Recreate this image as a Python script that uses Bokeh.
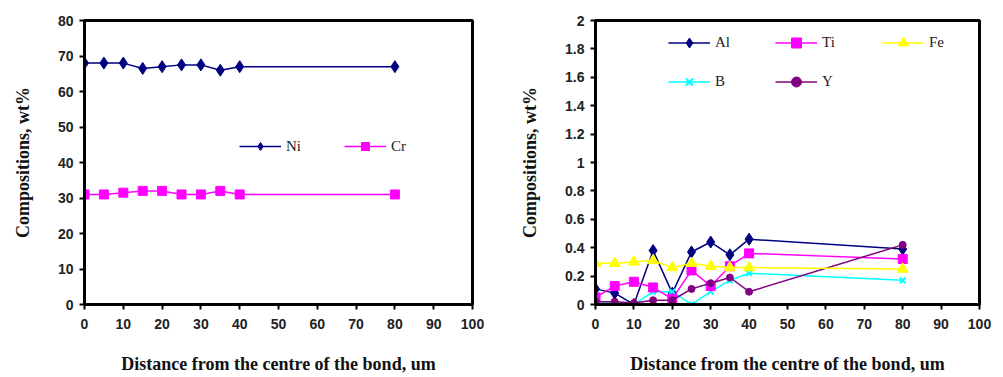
from bokeh.plotting import figure
from bokeh.layouts import row
from bokeh.models import Range1d, Legend, LegendItem, FixedTicker, CustomJSTickFormatter
from bokeh.embed import file_html
from bokeh.resources import INLINE

distance = [0, 5, 10, 15, 20, 25, 30, 35, 40, 80]

ni = [68, 68, 68, 66.5, 67, 67.5, 67.5, 66, 67, 67]
cr = [31, 31, 31.5, 32, 32, 31, 31, 32, 31, 31]

al = [0.11, 0.08, 0.0, 0.38, 0.08, 0.37, 0.44, 0.35, 0.46, 0.39]
ti = [0.05, 0.13, 0.16, 0.12, 0.04, 0.24, 0.13, 0.27, 0.36, 0.32]
fe = [0.29, 0.29, 0.30, 0.31, 0.26, 0.29, 0.27, 0.26, 0.26, 0.25]
b = [0.01, 0.01, 0.0, 0.09, 0.09, 0.0, 0.09, 0.17, 0.22, 0.17]
yy = [0.02, 0.02, 0.01, 0.03, 0.03, 0.11, 0.15, 0.19, 0.09, 0.42]

x_ticks = [0, 10, 20, 30, 40, 50, 60, 70, 80, 90, 100]
left_ticks = [0, 10, 20, 30, 40, 50, 60, 70, 80]
right_ticks = [0, 0.2, 0.4, 0.6, 0.8, 1.0, 1.2, 1.4, 1.6, 1.8, 2.0]

XLABEL = "Distance from the centre of the bond, um"
YLABEL = "Compositions, wt%"
SERIF = "Liberation Serif"


def style(p, yticks):
    p.xaxis.ticker = FixedTicker(ticks=x_ticks)
    p.yaxis.ticker = FixedTicker(ticks=yticks)
    p.xgrid.visible = False
    p.ygrid.visible = False
    p.outline_line_color = "black"
    p.outline_line_width = 3
    for ax in (p.xaxis[0], p.yaxis[0]):
        ax.axis_line_color = "black"
        ax.axis_line_width = 3
        ax.major_tick_line_color = "black"
        ax.major_tick_line_width = 2
        ax.major_tick_out = 5
        ax.major_tick_in = 0
        ax.minor_tick_line_color = None
        ax.major_label_text_font = "Liberation Sans"
        ax.major_label_text_font_style = "bold"
        ax.major_label_text_font_size = "14px"
        ax.major_label_text_color = "#222222"
        ax.axis_label_text_font = SERIF
        ax.axis_label_text_font_style = "bold"
        ax.axis_label_text_font_size = "18px"
        ax.axis_label_text_color = "#111111"
    p.xaxis.axis_label = XLABEL
    p.yaxis.axis_label = YLABEL
    p.xaxis.axis_label_standoff = 22
    p.yaxis.axis_label_standoff = 22
    p.xaxis.major_label_standoff = 9
    p.yaxis.major_label_standoff = 6


# Left panel
p1 = figure(width=500, height=377, output_backend="svg", toolbar_location=None,
            x_range=Range1d(0, 100), y_range=Range1d(0, 80),
            min_border_left=84, min_border_right=28, min_border_top=20, min_border_bottom=73)
style(p1, left_ticks)
l_ni = p1.line(distance, ni, color="#000080", line_width=1.5)
m_ni = p1.scatter(distance, ni, marker="diamond", size=12, color="#000080")
l_cr = p1.line(distance, cr, color="#FF00FF", line_width=1.5)
m_cr = p1.scatter(distance, cr, marker="square", size=9, color="#FF00FF")
leg1 = Legend(items=[LegendItem(label="Ni", renderers=[l_ni, m_ni]),
                     LegendItem(label="Cr", renderers=[l_cr, m_cr])],
              orientation="horizontal", location=(155, 148),
              background_fill_alpha=0, border_line_color=None,
              label_text_font=SERIF, label_text_font_size="15px",
              glyph_width=42, spacing=38, label_text_color="#222222")
p1.add_layout(leg1, "center")

# Right panel
p2 = figure(width=503, height=377, output_backend="svg", toolbar_location=None,
            x_range=Range1d(0, 100), y_range=Range1d(0, 2),
            min_border_left=95, min_border_right=24, min_border_top=19, min_border_bottom=71)
style(p2, right_ticks)
p2.yaxis.formatter = CustomJSTickFormatter(code="return String(Math.round(tick*10)/10);")

series = [
    ("Al", al, "#000080", "diamond", 12),
    ("B", b, "#00FFFF", "x", 8),
    ("Ti", ti, "#FF00FF", "square", 9),
    ("Y", yy, "#800080", "circle", 7),
    ("Fe", fe, "#FFFF00", "triangle", 11),
]
items = []
for name, vals, col, mk, sz in series:
    ln = p2.line(distance, vals, color=col, line_width=1.5)
    if mk == "x":
        sc = p2.scatter(distance, vals, marker=mk, size=sz, line_color=col, line_width=2)
    else:
        sc = p2.scatter(distance, vals, marker=mk, size=sz, color=col)
    items.append(LegendItem(label=name, renderers=[ln, sc]))
leg2 = Legend(items=items, ncols=3, location=(73, 210),
              background_fill_alpha=0, border_line_color=None,
              label_text_font=SERIF, label_text_font_size="15px",
              glyph_width=42, glyph_height=25, spacing=14, label_text_color="#222222",
              label_width=46)
p2.add_layout(leg2, "center")

layout = row(p1, p2)
open("out.html", "w").write(file_html(layout, INLINE))
